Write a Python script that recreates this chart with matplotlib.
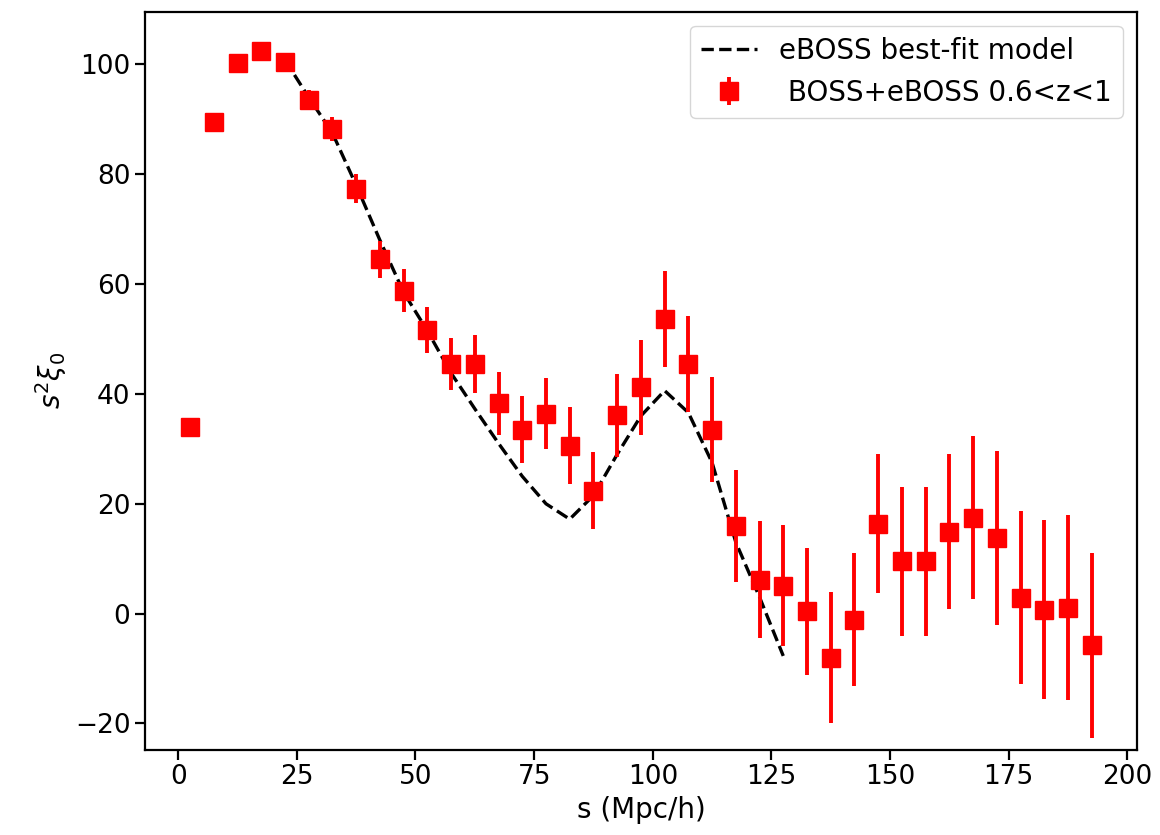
import matplotlib
matplotlib.use('Agg')
import matplotlib.pyplot as plt
import numpy as np

# Measured monopole (BOSS+eBOSS 0.6<z<1)
s = np.arange(2.5, 195, 5.0)
xi0 = [33.9, 89.6, 100.2, 102.4, 100.5, 93.6, 88.2, 77.4, 64.5, 58.8,
       51.7, 45.4, 45.4, 38.3, 33.5, 36.4, 30.6, 22.4, 36.1, 41.2,
       53.6, 45.5, 33.5, 16.0, 6.2, 5.1, 0.4, -8.0, -1.1, 16.4,
       9.5, 9.5, 14.9, 17.5, 13.8, 2.9, 0.7, 1.1, -5.8]
err = [0.5, 0.8, 1.0, 1.2, 1.5, 1.8, 2.2, 2.6, 3.4, 3.9,
       4.2, 4.7, 5.3, 5.7, 6.1, 6.5, 7.0, 7.0, 7.6, 8.6,
       8.7, 8.7, 9.6, 10.2, 10.7, 11.0, 11.5, 11.9, 12.1, 12.6,
       13.5, 13.5, 14.1, 14.8, 15.9, 15.8, 16.3, 16.9, 16.8]

# eBOSS best-fit model
s_model = np.arange(22.5, 130, 5.0)
xi_model = [100.8, 94.0, 87.5, 78.0, 68.0, 58.5, 51.5, 43.8, 37.3, 31.0,
            25.0, 20.0, 17.2, 21.5, 29.0, 36.0, 40.6, 36.6, 27.5, 13.0,
            3.0, -7.7]

plt.rcParams['font.size'] = 19

fig = plt.figure(figsize=(11.6, 8.35), dpi=100)
ax = fig.add_axes([0.125, 0.102, 0.855, 0.884])

ax.plot(s_model, xi_model, 'k--', lw=2.4, label='eBOSS best-fit model')
ax.errorbar(s, xi0, yerr=err, fmt='s', color='red', ms=13, elinewidth=2.8,
            capsize=0, label=' BOSS+eBOSS 0.6<z<1')

ax.set_xlabel('s (Mpc/h)', fontsize=20)
ax.set_ylabel(r'$s^2\xi_0$', fontsize=20)
ax.set_xticks(np.arange(0, 201, 25))
ax.set_yticks(np.arange(-20, 101, 20))
ax.set_ylim(-24.8, 109.6)
for sp in ax.spines.values():
    sp.set_linewidth(1.6)
ax.tick_params(width=1.6, length=7)
ax.legend(loc='upper right', fontsize=20)

fig.savefig('out.png', dpi=100)
